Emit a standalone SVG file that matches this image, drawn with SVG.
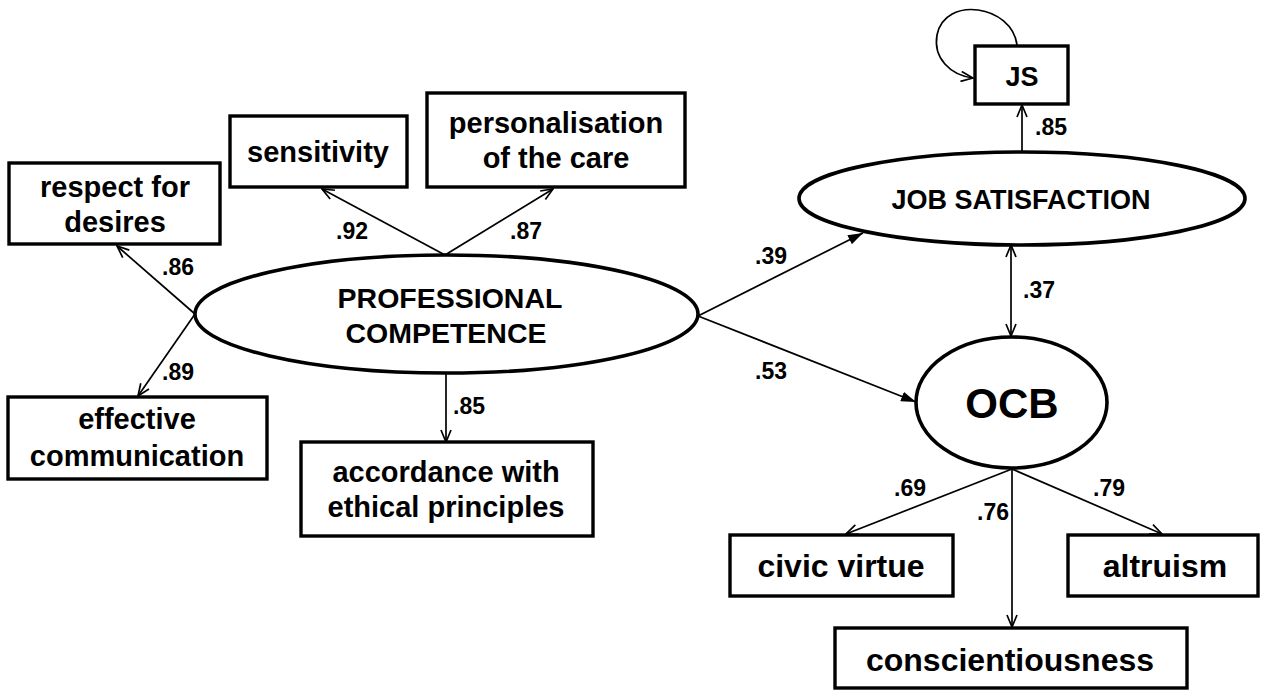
<svg xmlns="http://www.w3.org/2000/svg" width="1266" height="691" viewBox="0 0 1266 691">
<style>
.box{fill:#fff;stroke:#000;stroke-width:3.4}
.ell{fill:#fff;stroke:#000;stroke-width:3.6}
.t{font-family:"Liberation Sans",Arial,sans-serif;font-weight:bold;font-size:29px;text-anchor:middle;fill:#000}
.tb{font-size:32px}
.pc{font-size:28.5px}
.lab{font-family:"Liberation Sans",Arial,sans-serif;font-weight:bold;font-size:23px;fill:#000}
.c{fill:none;stroke:#000;stroke-width:1.7}
.o{marker-end:url(#open)}
.f{marker-end:url(#filled)}
</style>
<defs>
<marker id="open" viewBox="0 0 14 12" refX="13" refY="6" markerWidth="14" markerHeight="12" orient="auto-start-reverse" markerUnits="userSpaceOnUse">
<path d="M1,1 L13,6 L1,11" fill="none" stroke="#000" stroke-width="1.7"/>
</marker>
<marker id="filled" viewBox="0 0 15 10" refX="15" refY="5" markerWidth="15" markerHeight="10" orient="auto" markerUnits="userSpaceOnUse">
<path d="M0,0 L15,5 L0,10 z" fill="#000"/>
</marker>
</defs>
<rect width="1266" height="691" fill="#fff"/>

<g id="connectors">
<line class="c o" x1="445" y1="255" x2="322" y2="189"/>
<line class="c o" x1="445" y1="255" x2="553" y2="189"/>
<line class="c o" x1="195" y1="314" x2="117" y2="246"/>
<line class="c o" x1="195" y1="314" x2="138" y2="396"/>
<line class="c o" x1="446" y1="373" x2="446" y2="442"/>
<line class="c f" x1="698" y1="316" x2="863" y2="233"/>
<line class="c f" x1="698" y1="316" x2="916" y2="402"/>
<line class="c o" x1="1022" y1="152" x2="1022" y2="105"/>
<line class="c o" x1="1011" y1="245" x2="1011" y2="336" style="marker-start:url(#open)"/>
<path class="c o" d="M1017 45 C1012 5 945 -5 937 35 C933 58 950 75 973 78"/>
<line class="c o" x1="1012" y1="469" x2="846" y2="534"/>
<line class="c o" x1="1012" y1="469" x2="1012" y2="627"/>
<line class="c o" x1="1012" y1="469" x2="1162" y2="534"/>
<text class="lab" x="336" y="239">.92</text>
<text class="lab" x="510" y="239">.87</text>
<text class="lab" x="162" y="275">.86</text>
<text class="lab" x="162" y="380">.89</text>
<text class="lab" x="453" y="414">.85</text>
<text class="lab" x="755" y="264">.39</text>
<text class="lab" x="755" y="379">.53</text>
<text class="lab" x="1035" y="135">.85</text>
<text class="lab" x="1023" y="298">.37</text>
<text class="lab" x="894" y="496">.69</text>
<text class="lab" x="977" y="520">.76</text>
<text class="lab" x="1093" y="496">.79</text>
</g>

<g id="respect">
<rect class="box" x="9" y="163" width="211" height="81"/>
<text class="t" x="115" y="197">respect for</text>
<text class="t" x="115" y="232">desires</text>
</g>
<g id="sensitivity">
<rect class="box" x="230" y="116" width="177" height="71"/>
<text class="t" x="318" y="162">sensitivity</text>
</g>
<g id="personalisation">
<rect class="box" x="427" y="93" width="258" height="94"/>
<text class="t" x="556" y="133">personalisation</text>
<text class="t" x="556" y="168">of the care</text>
</g>
<g id="effective">
<rect class="box" x="8" y="397" width="259" height="82"/>
<text class="t" x="137" y="429">effective</text>
<text class="t" x="137" y="466">communication</text>
</g>
<g id="accordance">
<rect class="box" x="301" y="442" width="292" height="94"/>
<text class="t" x="446" y="482">accordance with</text>
<text class="t" x="446" y="517">ethical principles</text>
</g>
<g id="pc">
<ellipse class="ell" cx="446.5" cy="314" rx="251.5" ry="59"/>
<text class="t pc" x="450" y="308">PROFESSIONAL</text>
<text class="t pc" x="446" y="343">COMPETENCE</text>
</g>
<g id="js-box">
<rect class="box" x="975" y="46" width="93" height="58"/>
<text class="t" x="1022" y="86" style="font-size:27px">JS</text>
</g>
<g id="job-satisfaction">
<ellipse class="ell" cx="1022" cy="198.5" rx="223" ry="46.5"/>
<text class="t" x="1021" y="209" style="font-size:27px">JOB SATISFACTION</text>
</g>
<g id="ocb">
<ellipse class="ell" cx="1011.5" cy="402.5" rx="95.5" ry="65.5"/>
<text class="t" x="1012" y="418" style="font-size:42px">OCB</text>
</g>
<g id="civic">
<rect class="box" x="730" y="535" width="223" height="61"/>
<text class="t tb" x="841" y="577">civic virtue</text>
</g>
<g id="altruism">
<rect class="box" x="1068" y="535" width="190" height="61"/>
<text class="t tb" x="1165" y="577">altruism</text>
</g>
<g id="conscientiousness">
<rect class="box" x="835" y="628" width="352" height="60"/>
<text class="t tb" x="1010" y="671">conscientiousness</text>
</g>
</svg>
